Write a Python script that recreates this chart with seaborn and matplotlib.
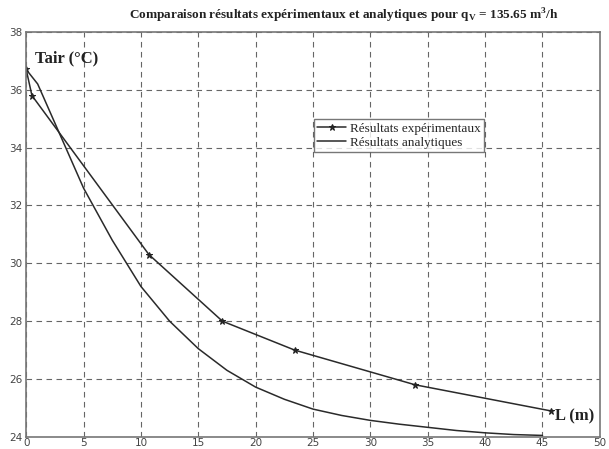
import numpy as np
import pandas as pd
import matplotlib.pyplot as plt
import seaborn as sns

# experimental measurements
L_exp = [0.0, 0.5, 10.7, 17.1, 23.4, 33.9, 45.7]
T_exp = [36.7, 35.8, 30.3, 28.0, 27.0, 25.8, 24.9]

# analytical curve
L_ana = [0, 1, 2, 3, 4, 5, 7.5, 10, 12.5, 15, 17.5, 20, 22.5, 25, 27.5, 30, 32.5, 35, 37.5, 40, 42.5, 45]
T_ana = [36.7, 36.2, 35.3, 34.4, 33.5, 32.6, 30.8, 29.2, 28.0, 27.05, 26.3, 25.72, 25.3, 24.96, 24.74, 24.57, 24.44, 24.33, 24.22, 24.14, 24.08, 24.05]

x_ticks = [0, 5, 10, 15, 20, 25, 30, 35, 40, 45, 50]
y_ticks = [24, 26, 28, 30, 32, 34, 36, 38]

df_exp = pd.DataFrame({'L': L_exp, 'T': T_exp})
df_ana = pd.DataFrame({'L': L_ana, 'T': T_ana})

sns.set_style("white")
plt.rcParams['font.family'] = ['DejaVu Sans']

fig = plt.figure(figsize=(6.09, 4.49), dpi=100)
ax = fig.add_axes([0.043, 0.027, 0.942, 0.902])

sns.lineplot(data=df_exp, x='L', y='T', ax=ax, color='#2a2a2a', lw=1.1,
             marker='*', markersize=5, markeredgecolor='#222222',
             label='Résultats expérimentaux')
sns.lineplot(data=df_ana, x='L', y='T', ax=ax, color='#2a2a2a', lw=1.1,
             label='Résultats analytiques')

ax.set_xlim(0, 50)
ax.set_ylim(24, 38)
ax.set_xticks(x_ticks)
ax.set_yticks(y_ticks)
ax.set_xlabel('')
ax.set_ylabel('')
ax.grid(True, linestyle=(0, (5, 4)), color='#666666', lw=0.8)
ax.tick_params(direction='in', length=4, labelsize=7.5, colors='#555555',
               labelcolor='#444444')
ax.tick_params(axis='x', pad=1)
ax.tick_params(axis='y', pad=3)
for s in ax.spines.values():
    s.set_color('#777777')
    s.set_linewidth(1.2)

serif = ['Liberation Serif', 'DejaVu Serif']
ax.text(0.015, 0.955, 'Tair (°C)', transform=ax.transAxes, fontsize=12,
        fontweight='bold', family=serif, va='top', color='#222222')
ax.text(0.99, 0.05, 'L (m)', transform=ax.transAxes, fontsize=12,
        fontweight='bold', family=serif, ha='right', va='center', color='#222222')

fig.text(0.565, 0.965, r'Comparaison résultats expérimentaux et analytiques pour q$_\mathregular{V}$ = 135.65 m$^\mathregular{3}$/h',
         ha='center', va='center', fontsize=9.5, fontweight='bold', family=serif,
         color='#222222')

leg = ax.legend(loc='upper left', bbox_to_anchor=(0.49, 0.8),
                frameon=True, fancybox=False, shadow=False, borderpad=0.25,
                handlelength=2.2, handletextpad=0.3, labelspacing=0.1,
                prop={'family': serif, 'size': 9.5})
leg.get_frame().set_edgecolor('#555555')
leg.get_frame().set_linewidth(1.0)

fig.savefig('out.png', dpi=100)
